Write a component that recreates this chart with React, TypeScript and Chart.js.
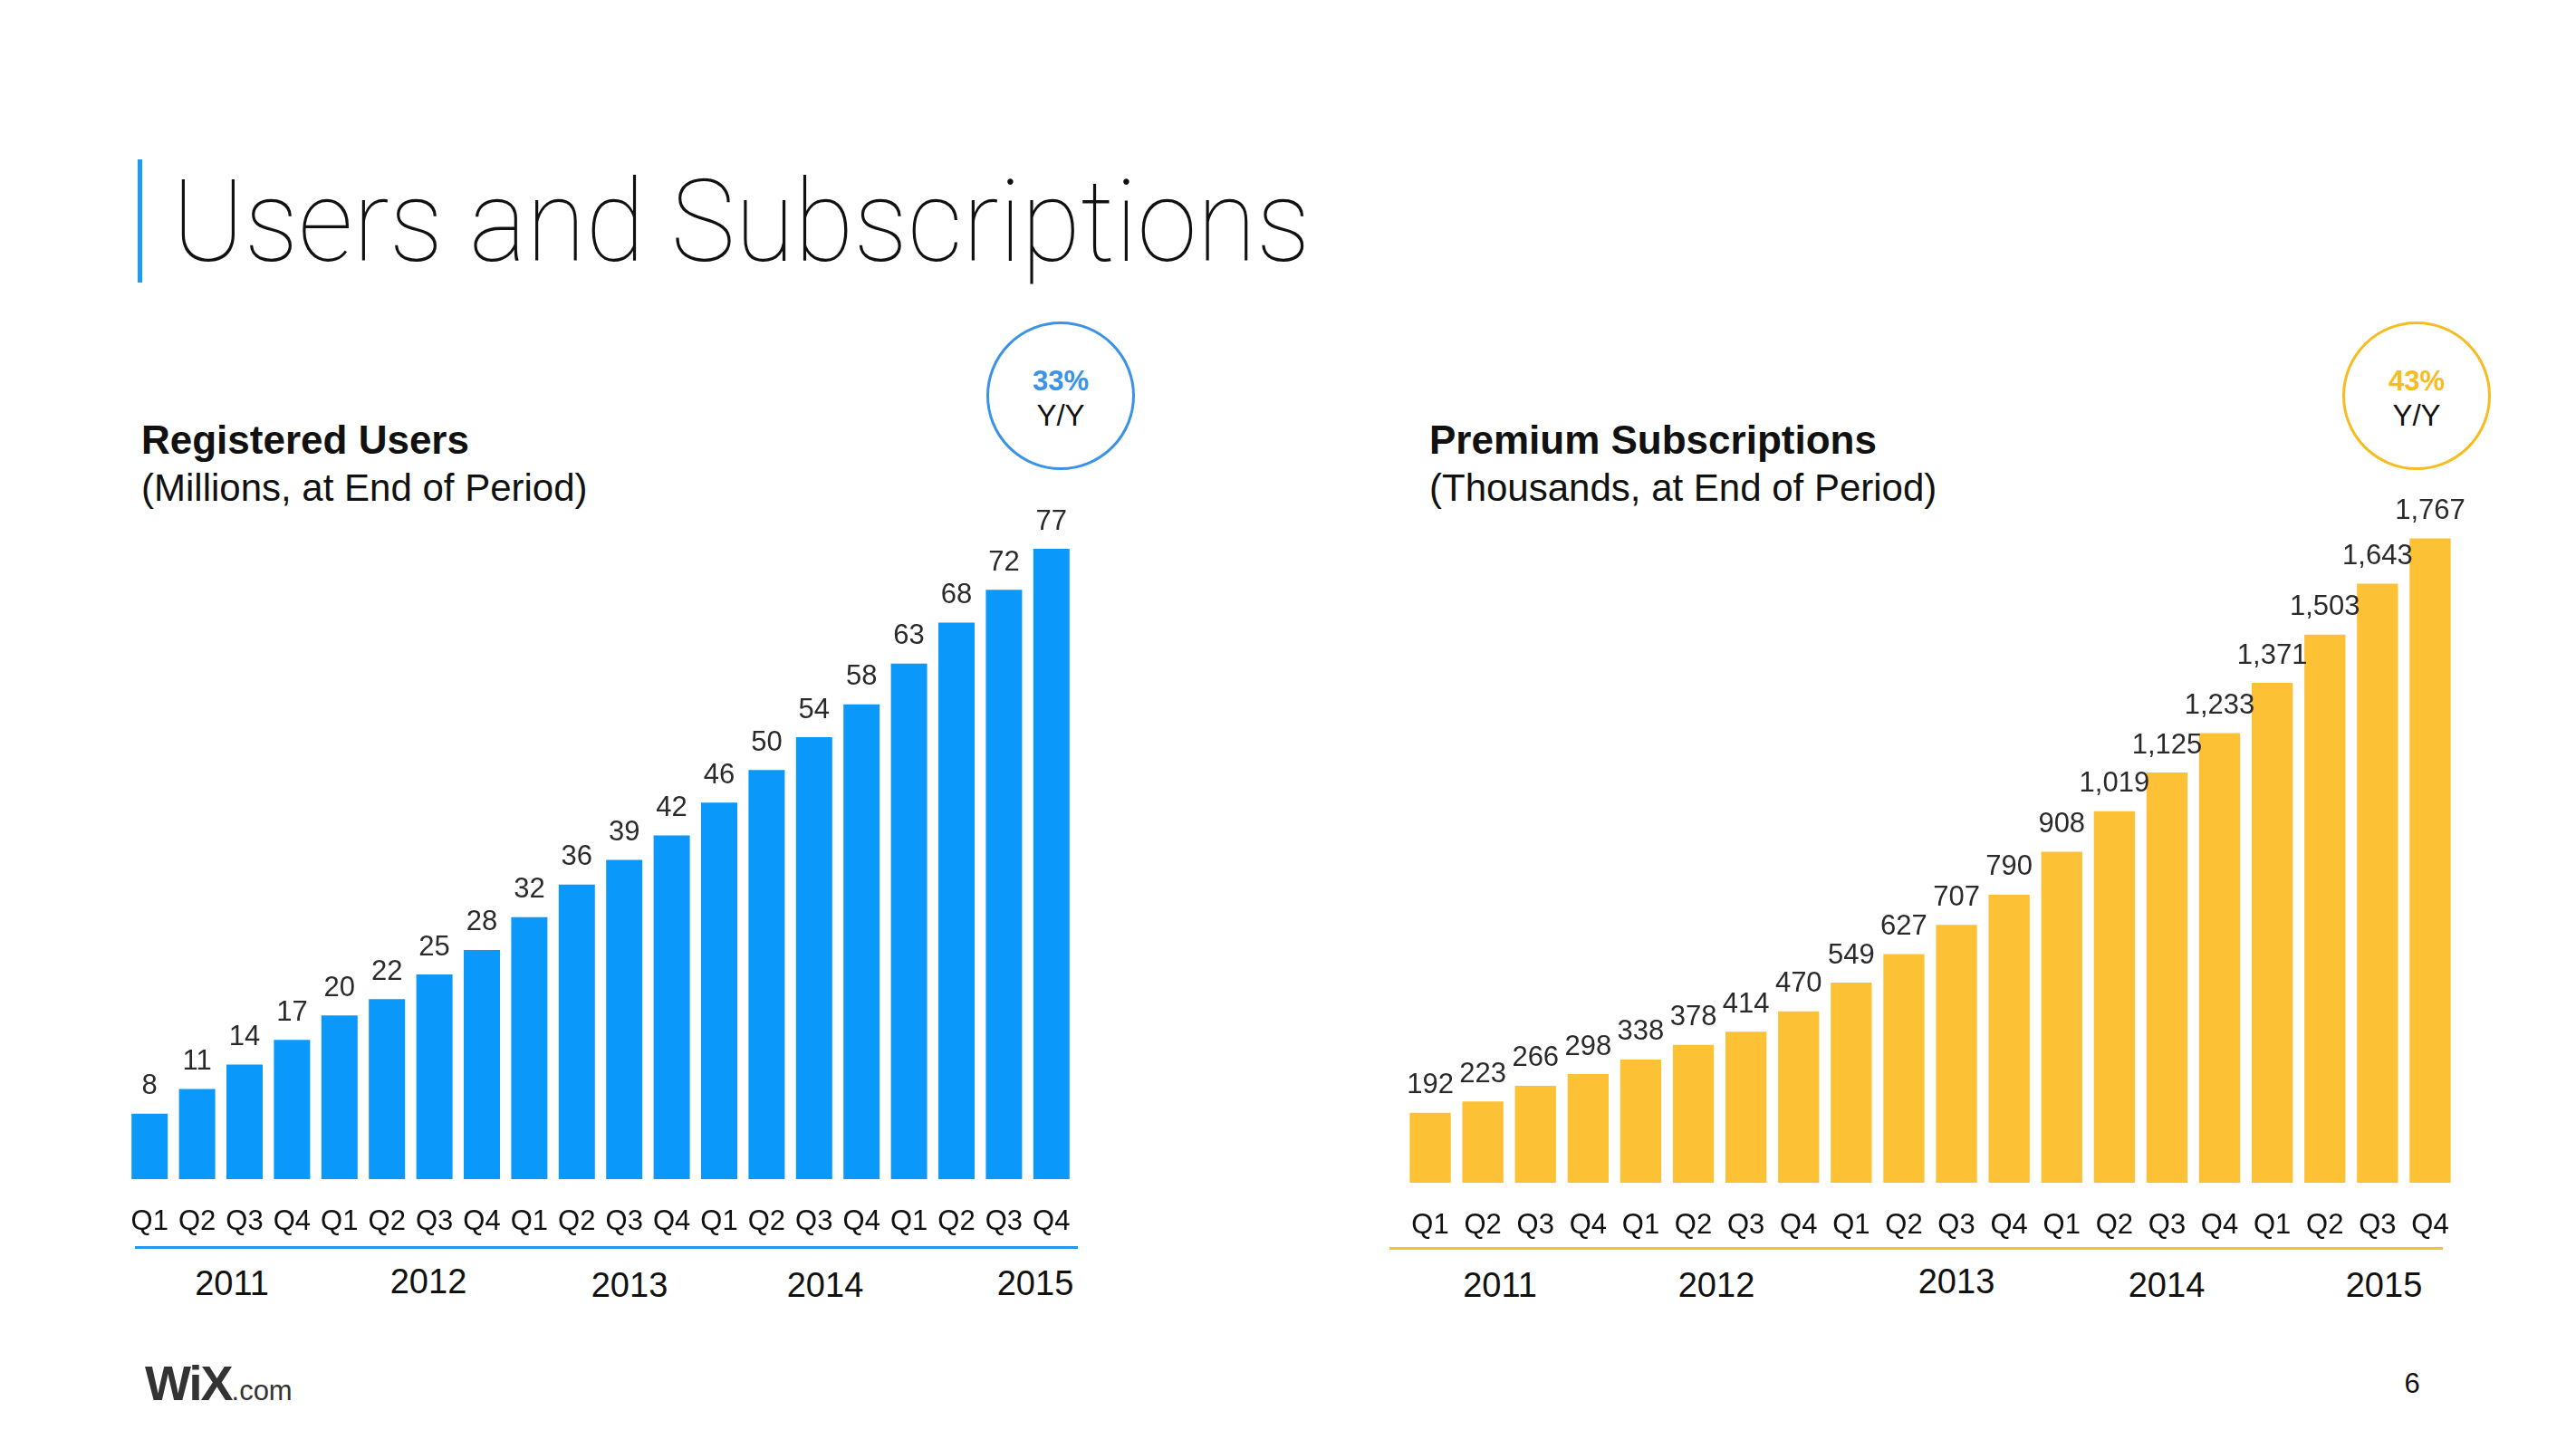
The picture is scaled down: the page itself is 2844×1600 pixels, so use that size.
import React, { useEffect, useRef } from "react";
import { Chart, registerables } from "chart.js";

Chart.register(...registerables);

// ---------- data ----------
const quarters = [
  "Q1", "Q2", "Q3", "Q4",
  "Q1", "Q2", "Q3", "Q4",
  "Q1", "Q2", "Q3", "Q4",
  "Q1", "Q2", "Q3", "Q4",
  "Q1", "Q2", "Q3", "Q4",
];
const years = ["2011", "2012", "2013", "2014", "2015"];
const registeredUsers = [8, 11, 14, 17, 20, 22, 25, 28, 32, 36, 39, 42, 46, 50, 54, 58, 63, 68, 72, 77];
const premiumSubscriptions = [192, 223, 266, 298, 338, 378, 414, 470, 549, 627, 707, 790, 908, 1019, 1125, 1233, 1371, 1503, 1643, 1767];
const usersGrowth = "33%";
const subsGrowth = "43%";

// ---------- layout (positions only) ----------
const leftYearX = [256, 473, 695, 911, 1143];
const leftYearY = [1417, 1415, 1419, 1419, 1417];
const rightYearX = [1656, 1895, 2160, 2392, 2632];
const rightYearY = [1419, 1419, 1415, 1419, 1419];

const SANS = '"Liberation Sans", Arial, Helvetica, sans-serif';
const BLUE = "#0A98FA";
const YELLOW = "#FDC136";
const SIDE_PAD = 50;

type BarProps = {
  values: number[];
  color: string;
  max: number;
  left: number;
  top: number;
  width: number;
  height: number;
  padTop: number;
  barPct: number;
  fmt: (v: number) => string;
};

function BarChart({ values, color, max, left, top, width, height, padTop, barPct, fmt }: BarProps) {
  const ref = useRef<HTMLCanvasElement>(null);
  const w = width + 2 * SIDE_PAD;
  useEffect(() => {
    if (!ref.current) return;
    const labelPlugin = {
      id: "valueLabels",
      afterDatasetsDraw(chart: any) {
        const ctx = chart.ctx;
        const meta = chart.getDatasetMeta(0);
        ctx.save();
        ctx.font = `31px ${SANS}`;
        ctx.fillStyle = "#2a2a2a";
        ctx.textAlign = "center";
        ctx.textBaseline = "middle";
        meta.data.forEach((bar: any, i: number) => {
          ctx.fillText(fmt(values[i]), bar.x, bar.y - 30);
        });
        ctx.restore();
      },
    };
    const chart = new Chart(ref.current, {
      type: "bar",
      data: {
        labels: quarters,
        datasets: [
          {
            data: values,
            backgroundColor: color,
            barPercentage: barPct,
            categoryPercentage: 1,
          },
        ],
      },
      options: {
        animation: false,
        responsive: false,
        maintainAspectRatio: false,
        layout: { padding: { top: padTop, left: SIDE_PAD, right: SIDE_PAD, bottom: 0 } },
        plugins: { legend: { display: false }, tooltip: { enabled: false } },
        scales: {
          x: {
            grid: { display: false, drawTicks: true, tickLength: 29 },
            border: { display: false },
            ticks: {
              font: { size: 31, family: SANS },
              color: "#111",
              padding: 0,
              maxRotation: 0,
              autoSkip: false,
            },
            afterFit: (s: any) => {
              s.height = 80;
            },
          },
          y: { display: false, min: 0, max },
        },
      },
      plugins: [labelPlugin],
    } as any);
    return () => chart.destroy();
  }, []);
  return (
    <canvas
      ref={ref}
      width={w}
      height={height}
      style={{ position: "absolute", left: left - SIDE_PAD, top, width: w, height }}
    />
  );
}

function CText(props: { x: number; y: number; size: number; children: any; weight?: number; color?: string; family?: string; align?: "center" | "left" }) {
  const { x, y, size, children, weight = 400, color = "#111", family = SANS, align = "center" } = props;
  return (
    <div
      style={{
        position: "absolute",
        left: x,
        top: y,
        transform: align === "center" ? "translate(-50%, -50%)" : "translate(0, -50%)",
        fontSize: size,
        lineHeight: 1,
        fontWeight: weight,
        color,
        fontFamily: family,
        whiteSpace: "nowrap",
      }}
    >
      {children}
    </div>
  );
}

function Circle({ cx, cy, r, color, pct }: { cx: number; cy: number; r: number; color: string; pct: string }) {
  return (
    <>
      <div
        style={{
          position: "absolute",
          left: cx - r,
          top: cy - r,
          width: 2 * r,
          height: 2 * r,
          borderRadius: "50%",
          border: `3px solid ${color}`,
          boxSizing: "border-box",
        }}
      />
      <CText x={cx} y={cy - 17} size={31} weight={700} color={color}>
        {pct}
      </CText>
      <CText x={cx} y={cy + 21} size={33} weight={400} color="#111">
        Y/Y
      </CText>
    </>
  );
}

export default function App() {
  return (
    <div
      style={{
        position: "absolute",
        left: 0,
        top: 0,
        width: 2844,
        height: 1600,
        background: "#fff",
        overflow: "hidden",
        fontFamily: SANS,
      }}
    >
      {/* title */}
      <div style={{ position: "absolute", left: 152, top: 176, width: 5, height: 136, background: "#1E9BF0" }} />
      <div
        style={{
          position: "absolute",
          left: 190,
          top: 245,
          transform: "translate(0, -50%) scaleX(0.95)",
          transformOrigin: "0 50%",
          fontSize: 126,
          lineHeight: 1,
          fontWeight: 100,
          color: "#111",
          fontFamily: 'Roboto, "Liberation Sans", sans-serif',
          whiteSpace: "nowrap",
        }}
      >
        Users and Subscriptions
      </div>

      {/* left header */}
      <CText x={156} y={486} size={44} weight={700} align="left">
        Registered Users
      </CText>
      <CText x={156} y={539} size={42} align="left">
        (Millions, at End of Period)
      </CText>
      <Circle cx={1171} cy={437} r={82} color="#3A93E6" pct={usersGrowth} />

      {/* right header */}
      <CText x={1578} y={486} size={44} weight={700} align="left">
        Premium Subscriptions
      </CText>
      <CText x={1578} y={539} size={42} align="left">
        (Thousands, at End of Period)
      </CText>
      <Circle cx={2668} cy={437} r={82} color="#F6BD22" pct={subsGrowth} />

      {/* charts */}
      <BarChart
        values={registeredUsers}
        color={BLUE}
        max={80}
        left={139}
        top={540}
        width={1048}
        height={842}
        padTop={39}
        barPct={0.763}
        fmt={(v) => String(v)}
      />
      <BarChart
        values={premiumSubscriptions}
        color={YELLOW}
        max={1900}
        left={1550}
        top={500}
        width={1162}
        height={886}
        padTop={41}
        barPct={0.78}
        fmt={(v) => v.toLocaleString("en-US")}
      />

      {/* year rules */}
      <div style={{ position: "absolute", left: 149, top: 1376, width: 1041, height: 3, background: "#2196F3" }} />
      <div style={{ position: "absolute", left: 1534, top: 1377, width: 1163, height: 3, background: "#EFC534" }} />

      {years.map((y, i) => (
        <CText key={"l" + y} x={leftYearX[i]} y={leftYearY[i]} size={38}>
          {y}
        </CText>
      ))}
      {years.map((y, i) => (
        <CText key={"r" + y} x={rightYearX[i]} y={rightYearY[i]} size={38}>
          {y}
        </CText>
      ))}

      {/* footer */}
      <div style={{ position: "absolute", left: 160, top: 1527, transform: "translateY(-50%)", whiteSpace: "nowrap", lineHeight: 1, color: "#333" }}>
        <span style={{ fontSize: 54, fontWeight: 900, fontFamily: SANS, letterSpacing: -2 }}>WiX</span>
        <span style={{ fontSize: 31, fontWeight: 300, fontFamily: SANS }}>.com</span>
      </div>
      <CText x={2663} y={1527} size={31}>
        6
      </CText>
    </div>
  );
}
